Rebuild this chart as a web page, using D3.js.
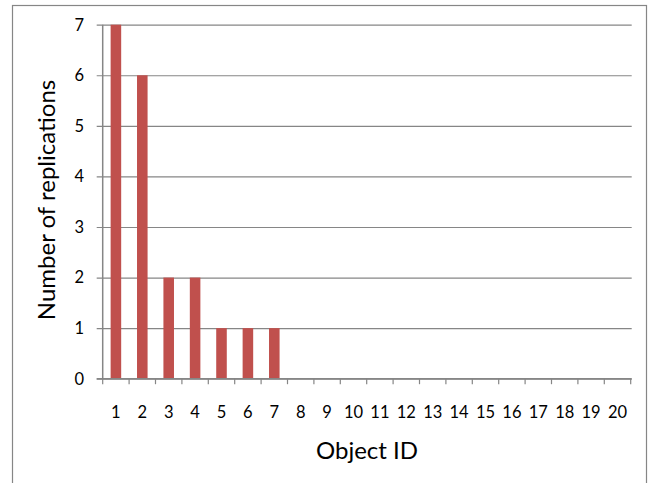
<!DOCTYPE html>
<html>
<head>
<meta charset="utf-8">
<script src="https://cdn.jsdelivr.net/npm/d3@7"></script>
<style>
  html, body { margin: 0; padding: 0; background: #fff; }
  svg { display: block; }
  text { font-family: Lato, "Open Sans", sans-serif; fill: #000; }
</style>
</head>
<body>
<svg id="chart" width="651" height="483"></svg>
<script>
// Replication counts per object
const objectIds = d3.range(1, 21);
const replications = [7, 6, 2, 2, 1, 1, 1, 0, 0, 0, 0, 0, 0, 0, 0, 0, 0, 0, 0, 0];
const yTicks = [0, 1, 2, 3, 4, 5, 6, 7];
const xTitle = "Object ID";
const yTitle = "Number of replications";

const W = 651, H = 483;
const plot = { left: 102.7, right: 630.7, top: 24.7, bottom: 378.7 };
const axisColor = "#868686";
const barColor = "#C0504D";

const svg = d3.select("#chart");

// Chart frame
svg.append("rect")
  .attr("x", 12.5).attr("y", 5.5)
  .attr("width", 634).attr("height", 520)
  .attr("fill", "none").attr("stroke", axisColor).attr("stroke-width", 1.2);

const x = d3.scaleBand()
  .domain(objectIds)
  .range([plot.left, plot.right])
  .paddingInner(0.6)
  .paddingOuter(0.3);

const y = d3.scaleLinear()
  .domain([0, 7])
  .range([plot.bottom, plot.top]);

// Horizontal gridlines with outward tick marks
const yAxis = d3.axisLeft(y)
  .tickValues(yTicks)
  .tickSize(-(plot.right - plot.left) - 1)
  .tickSizeOuter(0)
  .tickPadding(0)
  .tickFormat(() => "");
const gy = svg.append("g")
  .attr("transform", `translate(${plot.left},0)`)
  .call(yAxis);
gy.select(".domain").remove();
gy.selectAll(".tick line")
  .attr("x1", -6)
  .attr("stroke", axisColor)
  .attr("stroke-width", 1.2);

// Y tick labels
svg.append("g").selectAll("text")
  .data(yTicks)
  .join("text")
  .attr("x", 84)
  .attr("y", d => y(d))
  .attr("dy", "0.36em")
  .attr("text-anchor", "end")
  .attr("font-size", 16.5)
  .text(d => d);

// Bars
svg.append("g").selectAll("rect")
  .data(objectIds.map((id, i) => ({ id, v: replications[i] })))
  .join("rect")
  .attr("x", d => x(d.id))
  .attr("width", x.bandwidth())
  .attr("y", d => y(d.v))
  .attr("height", d => y(0) - y(d.v))
  .attr("fill", barColor);

// Y axis line
svg.append("line")
  .attr("x1", plot.left).attr("x2", plot.left)
  .attr("y1", plot.top).attr("y2", plot.bottom)
  .attr("stroke", axisColor).attr("stroke-width", 1.5);

// X axis line with category boundary ticks
svg.append("line")
  .attr("x1", plot.left - 6).attr("x2", plot.right + 1)
  .attr("y1", plot.bottom).attr("y2", plot.bottom)
  .attr("stroke", axisColor).attr("stroke-width", 1.5);

const step = x.step();
const boundaries = d3.range(0, objectIds.length + 1).map(i => plot.left + i * step);
svg.append("g").selectAll("line")
  .data(boundaries)
  .join("line")
  .attr("x1", d => d).attr("x2", d => d)
  .attr("y1", plot.bottom).attr("y2", plot.bottom + 5.5)
  .attr("stroke", axisColor).attr("stroke-width", 1.2);

// X tick labels
svg.append("g").selectAll("text")
  .data(objectIds)
  .join("text")
  .attr("x", d => x(d) + x.bandwidth() / 2)
  .attr("y", 412)
  .attr("dy", "0.36em")
  .attr("text-anchor", "middle")
  .attr("font-size", 16.5)
  .text(d => d);

// Axis titles
svg.append("text")
  .attr("x", 367)
  .attr("y", 459)
  .attr("text-anchor", "middle")
  .attr("font-size", 24)
  .text(xTitle);

svg.append("text")
  .attr("transform", "translate(55,200) rotate(-90)")
  .attr("text-anchor", "middle")
  .attr("font-size", 24)
  .text(yTitle);
</script>
</body>
</html>
